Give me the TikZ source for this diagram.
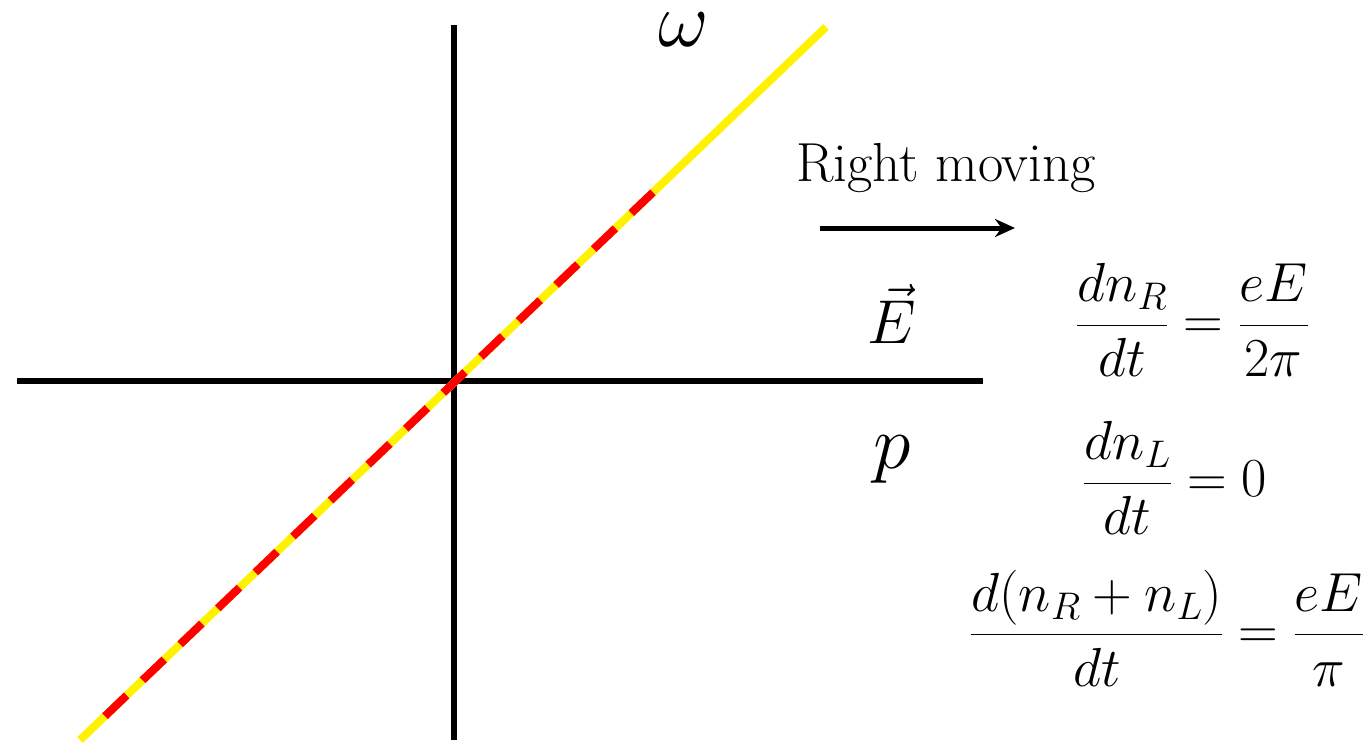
\documentclass[tikz,border=0pt]{standalone}
\usepackage{fix-cm}
\usepackage{fontspec}
\usetikzlibrary{calc,arrows.meta}
\begin{document}
\begin{tikzpicture}[
        x=1pt, y=-1pt,
        >={Stealth[length=20pt,width=18pt]},
        axis/.style={
            line width=6pt,
            draw=black
        },
        band/.style={
            line width=8pt,
            draw=yellow
        },
        dashband/.style={
            line width=8pt,
            draw=red,
            dash pattern=on 30pt off 22pt
        },
        arrow/.style={
            ->,
            line width=5pt,
            draw=black
        },
        label/.style={
            font=\fontsize{55}{66}\selectfont
        },
        eqn/.style={
            anchor=west,
            inner sep=0pt,
            font=\fontsize{55}{66}\selectfont
        }
    ]
    \useasboundingbox (0,0) rectangle (1370,744);

    % axes
    \coordinate (p_left)  at (17, 381);
    \coordinate (p_right) at (983, 381);
    \coordinate (w_top)   at (454, 25);
    \coordinate (w_bot)   at (454, 740);
    \draw[axis] (p_left) -- (p_right);
    \draw[axis] (w_top) -- (w_bot);

    % dispersion line
    \coordinate (disp_lo) at (80, 740);
    \coordinate (disp_hi) at (826, 27);
    \draw[band] (disp_lo) -- (disp_hi);
    \draw[dashband] ($(disp_lo)!0.0335!(disp_hi)$) -- ($(disp_lo)!0.769!(disp_hi)$);

    \node[inner sep=0pt, font=\fontsize{78}{86}\selectfont] (omega) at (684, 30) {$\omega$};
    \node[font=\fontsize{76}{86}\selectfont] (mom)   at (892, 460) {$p$};
    \node[inner sep=0pt, font=\fontsize{62}{72}\selectfont] (field) at (892, 314) {$\vec{E}$};

    \node[label] (right_txt) at (946, 168) {Right moving};
    \coordinate (mv_start) at (820, 228);
    \coordinate (mv_end)   at (1015, 228);
    \draw[arrow] (mv_start) -- (mv_end);

    \node[eqn] (rate_R)   at (1076, 320) {$\displaystyle\frac{dn_R}{dt}=\frac{eE}{2\pi}$};
    \node[eqn] (rate_L)   at (1083, 478) {$\displaystyle\frac{dn_L}{dt}=0$};
    \node[eqn] (rate_sum) at (970, 628)  {$\displaystyle\frac{d(n_R+n_L)}{dt}=\frac{eE}{\pi}$};

\end{tikzpicture}
\end{document}
